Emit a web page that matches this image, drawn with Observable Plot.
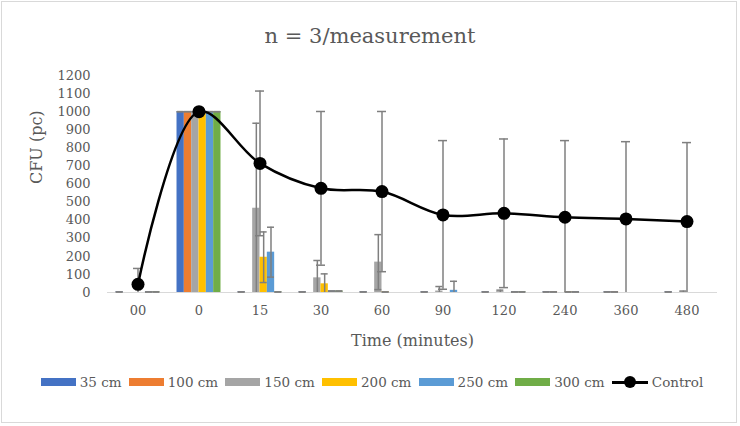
<!DOCTYPE html>
<html>
<head>
<meta charset="utf-8">
<script src="https://cdn.jsdelivr.net/npm/d3@7"></script>
<script src="https://cdn.jsdelivr.net/npm/@observablehq/plot@0.6"></script>
<style>
  html, body { margin: 0; padding: 0; background: #fff; }
  #wrap { position: relative; width: 740px; height: 426px; font-family: "DejaVu Serif", serif; color: #595959; }
  #frame { position: absolute; left: 1px; top: 1px; width: 736px; height: 422px; border: 1px solid #d9d9d9; box-sizing: border-box; pointer-events: none; }
  #title { position: absolute; left: 0; width: 740px; top: 24px; text-align: center; font-size: 21px; }
  #chart { position: absolute; left: 0; top: 0; }
  #legend { position: absolute; left: 2px; width: 740px; top: 374px; display: flex; justify-content: center; align-items: center; font-size: 13.5px; }
  .item { display: flex; align-items: center; margin: 0 3.6px; }
  .sw { width: 35px; height: 8px; margin-right: 4px; }
  .ln { position: relative; width: 36px; height: 12px; margin-right: 4px; }
  .ln::before { content: ""; position: absolute; left: 0; right: 0; top: 5px; height: 2.5px; background: #000; }
  .ln::after { content: ""; position: absolute; left: 12px; top: 0; width: 12px; height: 12px; border-radius: 50%; background: #000; }
</style>
</head>
<body>
<div id="wrap">
  <div id="chart"></div>
  <div id="title">n = 3/measurement</div>
  <div id="legend"></div>
  <div id="frame"></div>
</div>
<script>
// ---- data ----
const categories = ["00", "0", "15", "30", "60", "90", "120", "240", "360", "480"];
const seriesNames = ["35 cm", "100 cm", "150 cm", "200 cm", "250 cm", "300 cm"];
const seriesColors = ["#4472C4", "#ED7D31", "#A5A5A5", "#FFC000", "#5B9BD5", "#70AD47"];

const v35  = [3, 1000, 3, 3, 3, 3, 3, 3, 3, 3];
const e35  = [0, 0, 0, 0, 0, 0, 0, 0, 0, 0];
const v100 = [null, 1000, null, null, null, null, null, 3, 3, null];
const e100 = [0, 0, 0, 0, 0, 0, 0, 0, 0, 0];
const v150 = [null, 1000, 466, 81, 168, 8, 5, null, null, 3];
const e150 = [0, 0, 470, 96, 152, 25, 8, 0, 0, 5];
const v200 = [null, 1000, 195, 48, 3, null, null, 3, null, null];
const e200 = [0, 0, 140, 55, 0, 0, 0, 0, 0, 0];
const v250 = [3, 1000, 223, 8, null, 12, 3, 3, null, null];
const e250 = [0, 0, 138, 0, 0, 50, 0, 0, 0, 0];
const v300 = [3, 1000, 3, 8, null, null, 3, null, null, null];
const e300 = [0, 0, 0, 0, 0, 0, 0, 0, 0, 0];

const controlValues = [45, 1000, 714, 576, 558, 429, 438, 416, 407, 392];
const controlErrors = [88, 0, 400, 425, 443, 411, 411, 424, 427, 437];

const yTicks = [0, 100, 200, 300, 400, 500, 600, 700, 800, 900, 1000, 1100, 1200];

// ---- tables ----
const seriesValues = [v35, v100, v150, v200, v250, v300];
const seriesErrors = [e35, e100, e150, e200, e250, e300];
const barRows = [];
seriesValues.forEach((vals, k) => {
  vals.forEach((v, i) => {
    if (v != null) barRows.push({cat: categories[i], k, value: v, err: seriesErrors[k][i]});
  });
});
const controlRows = categories.map((c, i) => ({cat: c, value: controlValues[i], err: controlErrors[i]}));

// ---- layout ----
const W = 740, H = 426, ML = 107, MR = 23, MT = 75, MB = 134;
const band = (W - ML - MR) / categories.length;
const barW = 7.33;
const capW = 7;
const inBar = (band - barW) / 2;
const inCap = (band - capW) / 2;
const errColor = "#7f7f7f";

const marks = [Plot.ruleY([0], {stroke: "#d9d9d9", strokeWidth: 1.2})];
seriesNames.forEach((name, k) => {
  const rows = barRows.filter(d => d.k === k);
  const dx = (k - 2.5) * barW;
  marks.push(Plot.barY(rows, {x: "cat", y: "value", fill: seriesColors[k], insetLeft: inBar, insetRight: inBar, dx}));
});
seriesNames.forEach((name, k) => {
  const rows = barRows.filter(d => d.k === k);
  const dx = (k - 2.5) * barW;
  marks.push(Plot.ruleX(rows.filter(d => d.err > 0), {x: "cat", y1: d => Math.max(0, d.value - d.err), y2: d => d.value + d.err, stroke: errColor, strokeWidth: 1.5, dx}));
  marks.push(Plot.tickY(rows, {x: "cat", y: d => d.value + d.err, stroke: errColor, strokeWidth: 1.5, insetLeft: inCap, insetRight: inCap, dx}));
  marks.push(Plot.tickY(rows.filter(d => d.value - d.err >= 0), {x: "cat", y: d => d.value - d.err, stroke: errColor, strokeWidth: 1.5, insetLeft: inCap, insetRight: inCap, dx}));
});
marks.push(Plot.ruleX(controlRows.filter(d => d.err > 0), {x: "cat", y1: d => Math.max(0, d.value - d.err), y2: d => d.value + d.err, stroke: errColor, strokeWidth: 1.5}));
marks.push(Plot.tickY(controlRows.filter(d => d.err > 0), {x: "cat", y: d => d.value + d.err, stroke: errColor, strokeWidth: 1.5, insetLeft: (band - 9) / 2, insetRight: (band - 9) / 2}));
marks.push(Plot.tickY(controlRows.filter(d => d.err > 0 && d.value - d.err >= 0), {x: "cat", y: d => d.value - d.err, stroke: errColor, strokeWidth: 1.5, insetLeft: (band - 9) / 2, insetRight: (band - 9) / 2}));
marks.push(Plot.line(controlRows, {x: "cat", y: "value", stroke: "#000", strokeWidth: 2.5, curve: "catmull-rom"}));
marks.push(Plot.dot(controlRows, {x: "cat", y: "value", r: 6.5, fill: "#000", stroke: "none"}));
marks.push(Plot.text(["CFU (pc)"], {frameAnchor: "left", rotate: -90, dx: -71, fontSize: 16, fill: "#595959"}));
marks.push(Plot.text(["Time (minutes)"], {frameAnchor: "bottom", dy: 53, fontSize: 16, fill: "#595959"}));

const chart = Plot.plot({
  width: W, height: H,
  marginLeft: ML, marginRight: MR, marginTop: MT, marginBottom: MB,
  style: {background: "transparent", fontFamily: "DejaVu Serif", fontSize: "13px", color: "#595959"},
  x: {type: "band", domain: categories, padding: 0, tickSize: 0, tickPadding: 13, label: null},
  y: {domain: [0, 1200], ticks: yTicks, tickSize: 0, tickPadding: 17, label: null, tickFormat: d => String(d)},
  marks
});
document.getElementById("chart").appendChild(chart);

// ---- legend ----
const legend = document.getElementById("legend");
seriesNames.forEach((name, k) => {
  const it = document.createElement("div");
  it.className = "item";
  it.innerHTML = `<span class="sw" style="background:${seriesColors[k]}"></span><span>${name}</span>`;
  legend.appendChild(it);
});
const ctl = document.createElement("div");
ctl.className = "item";
ctl.innerHTML = `<span class="ln"></span><span>Control</span>`;
legend.appendChild(ctl);
</script>
</body>
</html>
